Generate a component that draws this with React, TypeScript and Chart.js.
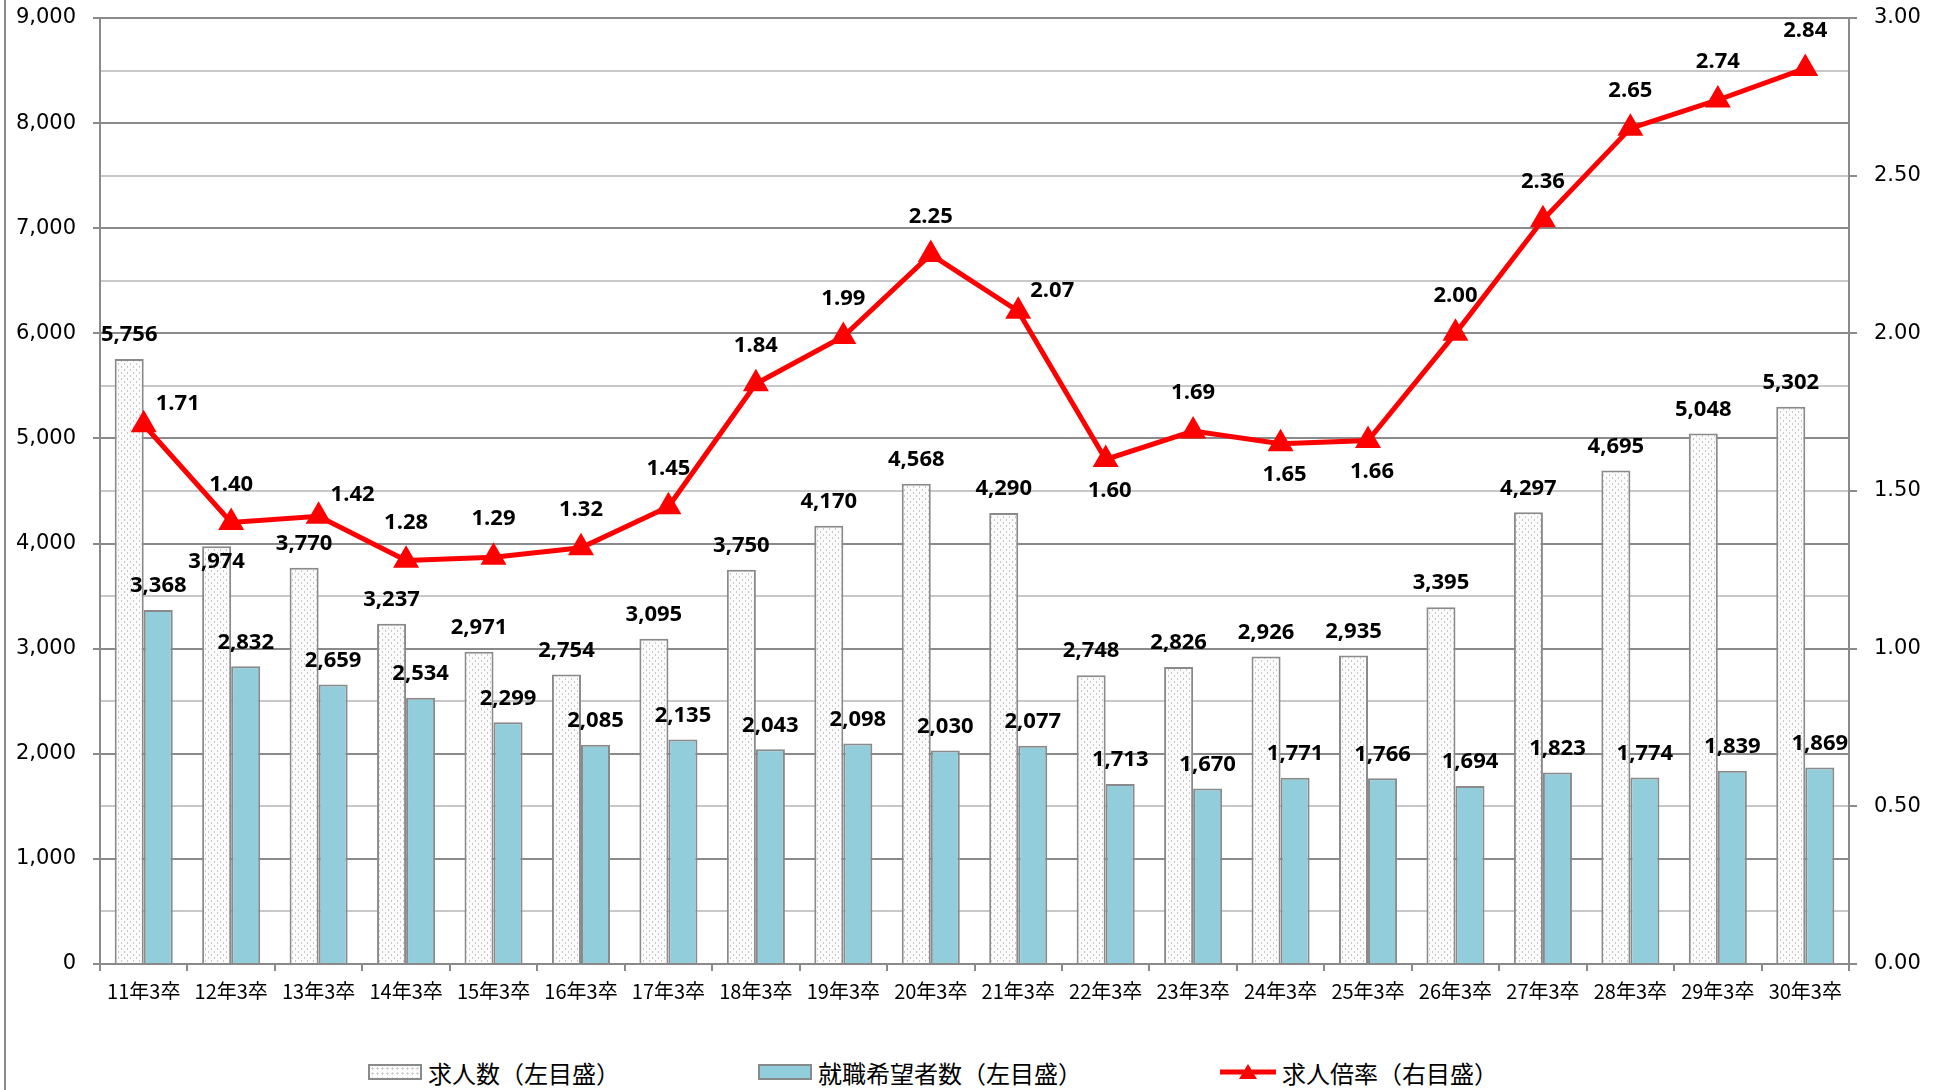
import { useEffect, useRef } from 'react'
import { Chart, registerables } from 'chart.js'

Chart.register(...registerables)

const categories = [
  '11年3卒', '12年3卒', '13年3卒', '14年3卒', '15年3卒', '16年3卒', '17年3卒',
  '18年3卒', '19年3卒', '20年3卒', '21年3卒', '22年3卒', '23年3卒', '24年3卒',
  '25年3卒', '26年3卒', '27年3卒', '28年3卒', '29年3卒', '30年3卒',
]

// 求人数（左目盛）
const openings = [
  5756, 3974, 3770, 3237, 2971, 2754, 3095, 3750, 4170, 4568,
  4290, 2748, 2826, 2926, 2935, 3395, 4297, 4695, 5048, 5302,
]

// 就職希望者数（左目盛）
const applicants = [
  3368, 2832, 2659, 2534, 2299, 2085, 2135, 2043, 2098, 2030,
  2077, 1713, 1670, 1771, 1766, 1694, 1823, 1774, 1839, 1869,
]

// 求人倍率（右目盛）
const ratio = [
  1.71, 1.40, 1.42, 1.28, 1.29, 1.32, 1.45, 1.84, 1.99, 2.25,
  2.07, 1.60, 1.69, 1.65, 1.66, 2.00, 2.36, 2.65, 2.74, 2.84,
]

// where each ratio label sits: a = above, r = right, b = below
const ratioLabelSide = [
  'r', 'a', 'r', 'a', 'a', 'a', 'a', 'a', 'a', 'a',
  'r', 'b', 'a', 'b', 'b', 'a', 'a', 'a', 'a', 'a',
]

// 求人数 labels: a = above the bar, i = pushed down under the line marker
const openingsLabelSide = [
  'a', 'i', 'a', 'a', 'a', 'a', 'a', 'a', 'a', 'a',
  'a', 'a', 'a', 'a', 'a', 'a', 'a', 'a', 'a', 'a',
]

const GRID_DARK = '#8a8a8a'
const GRID_LIGHT = '#c8c8c8'
const BLUE = '#92cddc'
const RED = '#ff0000'
const TICK_FONT = { family: '"DejaVu Sans"', size: 21 }
const CJK = '"Noto Sans CJK JP", "Noto Sans", sans-serif'

const labelOffsets: Record<string, [number, number]> = {
  a: [0, -38],
  r: [34, -21],
  b: [4, 31],
}

function dotPattern(ctx: CanvasRenderingContext2D) {
  const c = document.createElement('canvas')
  c.width = 6
  c.height = 6
  const p = c.getContext('2d')!
  p.fillStyle = '#fbfbfb'
  p.fillRect(0, 0, 6, 6)
  p.fillStyle = '#c9c9c9'
  p.fillRect(1, 0, 1, 2)
  p.fillRect(4, 3, 1, 2)
  return ctx.createPattern(c, 'repeat') as CanvasPattern
}

const valueLabels = {
  id: 'valueLabels',
  afterDatasetsDraw(chart: Chart) {
    const { ctx } = chart
    ctx.save()
    ctx.fillStyle = '#000'
    ctx.font = 'bold 22px "Open Sans"'
    ctx.textAlign = 'center'
    ctx.textBaseline = 'middle'
    ;[0, 1].forEach((di) => {
      const values = chart.data.datasets[di].data as number[]
      chart.getDatasetMeta(di).data.forEach((bar, i) => {
        const dy = di === 0 && openingsLabelSide[i] === 'i' ? 15 : -24
        ctx.fillText(values[i].toLocaleString('en-US'), bar.x, bar.y + dy)
      })
    })
    chart.getDatasetMeta(2).data.forEach((pt, i) => {
      const [dx, dy] = labelOffsets[ratioLabelSide[i]]
      ctx.fillText(ratio[i].toFixed(2), pt.x + dx, pt.y + dy)
    })
    ctx.restore()
  },
}

function LegendItem({ swatch, text }: { swatch: React.ReactNode; text: string }) {
  return (
    <div style={{ display: 'flex', alignItems: 'center' }}>
      {swatch}
      <span style={{ marginLeft: 6 }}>{text}</span>
    </div>
  )
}

export default function App() {
  const canvasRef = useRef<HTMLCanvasElement>(null)
  const chartRef = useRef<Chart | null>(null)

  useEffect(() => {
    document.body.style.margin = '0'
    if (!canvasRef.current) return
    const ctx = canvasRef.current.getContext('2d')
    if (!ctx) return
    if (chartRef.current) chartRef.current.destroy()

    chartRef.current = new Chart(ctx, {
      type: 'bar',
      data: {
        labels: categories,
        datasets: [
          {
            label: '求人数（左目盛）',
            data: openings,
            backgroundColor: dotPattern(ctx),
            borderColor: GRID_DARK,
            borderWidth: 2,
            categoryPercentage: 0.664,
            barPercentage: 1,
            yAxisID: 'y',
            order: 1,
          },
          {
            label: '就職希望者数（左目盛）',
            data: applicants,
            backgroundColor: BLUE,
            borderColor: GRID_DARK,
            borderWidth: 2,
            categoryPercentage: 0.664,
            barPercentage: 1,
            yAxisID: 'y',
            order: 1,
          },
          {
            type: 'line',
            label: '求人倍率（右目盛）',
            data: ratio,
            borderColor: RED,
            borderWidth: 5,
            pointStyle: 'triangle',
            pointRadius: 15,
            pointBackgroundColor: RED,
            pointBorderWidth: 0,
            tension: 0,
            yAxisID: 'y1',
            order: 0,
          },
        ],
      },
      options: {
        responsive: true,
        maintainAspectRatio: false,
        animation: false,
        layout: { padding: { top: 18, left: 0, right: 0, bottom: 0 } },
        plugins: { legend: { display: false }, tooltip: { enabled: false } },
        scales: {
          x: {
            grid: { offset: true, drawOnChartArea: false, tickLength: 7, color: GRID_DARK, lineWidth: 2 },
            border: { color: GRID_DARK, width: 2 },
            ticks: {
              color: '#000',
              font: { family: CJK, size: 20 },
              padding: 8,
              maxRotation: 0,
              autoSkip: false,
            },
            afterFit: (scale) => {
              scale.height = 36
            },
          },
          y: {
            position: 'left',
            min: 0,
            max: 9000,
            grid: {
              color: (c) => (c.tick && c.tick.value % 1000 === 0 ? GRID_DARK : GRID_LIGHT),
              tickColor: (c) => (c.tick && c.tick.value % 1000 === 0 ? GRID_DARK : 'rgba(0,0,0,0)'),
              lineWidth: 2,
              tickLength: 7,
            },
            border: { color: GRID_DARK, width: 2 },
            ticks: {
              stepSize: 500,
              autoSkip: false,
              color: '#000',
              font: TICK_FONT,
              padding: 17,
              callback: (v) => (Number(v) % 1000 === 0 ? Number(v).toLocaleString('en-US') : ''),
            },
            afterFit: (scale) => {
              scale.width = 100
              scale.paddingTop = 0
              scale.paddingBottom = 0
            },
          },
          y1: {
            position: 'right',
            min: 0,
            max: 3,
            grid: { drawOnChartArea: false, tickLength: 8, color: GRID_DARK, lineWidth: 2 },
            border: { color: GRID_DARK, width: 2 },
            ticks: {
              stepSize: 0.5,
              color: '#000',
              font: TICK_FONT,
              padding: 17,
              callback: (v) => Number(v).toFixed(2),
            },
            afterFit: (scale) => {
              scale.width = 95
              scale.paddingTop = 0
              scale.paddingBottom = 0
            },
          },
        },
      },
      plugins: [valueLabels],
    })

    return () => {
      if (chartRef.current) {
        chartRef.current.destroy()
        chartRef.current = null
      }
    }
  }, [])

  const hatch = (
    <div
      style={{
        width: 50,
        height: 12,
        border: `2px solid ${GRID_DARK}`,
        background: 'radial-gradient(#c9c9c9 0.9px, transparent 1.3px) 0 0 / 5px 5px, #fbfbfb',
      }}
    />
  )
  const blue = <div style={{ width: 50, height: 12, border: `2px solid ${GRID_DARK}`, background: BLUE }} />
  const line = (
    <svg width={56} height={18}>
      <line x1={0} y1={9} x2={56} y2={9} stroke={RED} strokeWidth={5} />
      <polygon points="28,1 19,16 37,16" fill={RED} />
    </svg>
  )

  return (
    <div style={{ position: 'relative', width: 1944, height: 1090, overflow: 'hidden', background: '#fff' }}>
      <div style={{ position: 'absolute', left: 4, top: 0, width: 2, height: 1090, background: GRID_DARK }} />
      <div style={{ position: 'absolute', left: 0, top: 0, width: 1944, height: 1000 }}>
        <canvas ref={canvasRef} />
      </div>
      <div
        style={{
          position: 'absolute',
          left: 368,
          top: 1056,
          height: 32,
          display: 'flex',
          alignItems: 'center',
          gap: 138,
          fontFamily: CJK,
          fontSize: 24,
          color: '#000',
        }}
      >
        <LegendItem swatch={hatch} text="求人数（左目盛）" />
        <LegendItem swatch={blue} text="就職希望者数（左目盛）" />
        <LegendItem swatch={line} text="求人倍率（右目盛）" />
      </div>
    </div>
  )
}
